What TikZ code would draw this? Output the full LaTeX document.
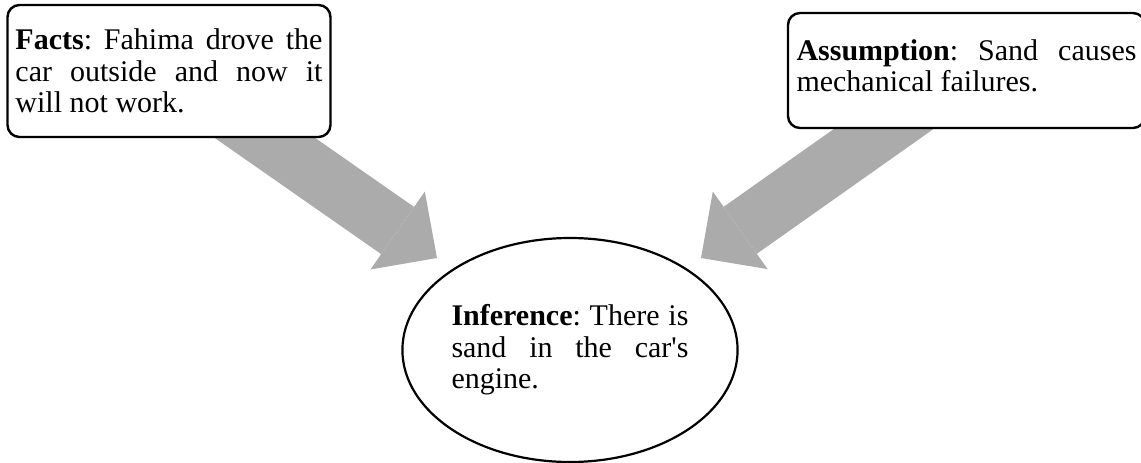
\documentclass[tikz,border=0pt]{standalone}
\usepackage{fontspec}
\setmainfont{Liberation Serif}
\usepackage{xcolor}
\usepackage{tikz}
\usetikzlibrary{shapes.geometric, arrows.meta, backgrounds}
\definecolor{arrowgrey}{HTML}{ABABAB}
\newcommand{\boxtext}{\fontsize{30}{31.5}\selectfont\frenchspacing
  \hyphenpenalty=10000 \spaceskip=0.25em plus 0.6em\relax}

\begin{document}
\begin{tikzpicture}[
  x=1pt, y=-1pt,
  box/.style={draw, fill=white, line width=2.4pt, rounded corners=12pt,
    font=\boxtext, align=justify, inner xsep=8pt},
  blob/.style={draw, fill=white, ellipse, line width=2.2pt,
    font=\boxtext, align=justify, inner sep=0pt},
  bigarrow/.style={arrowgrey, line width=57.5pt,
    -{Triangle[length=48pt, width=95pt, line width=0pt]}}
]
\useasboundingbox (0,0) rectangle (1141,463);

\node[box, text width=307pt, minimum width=322pt, minimum height=132pt] (facts) at (169,71)
  {\textbf{Facts}: Fahima drove the car outside and now it will not work.};
\node[box, text width=340pt, minimum width=357pt, minimum height=115pt] (assum) at (966.5,70.5)
  {\textbf{Assumption}: Sand causes mechanical failures.\strut};
\node[blob, text width=237pt, minimum width=334pt, minimum height=224pt] (infer) at (570,350)
  {\textbf{Inference}: There is sand in the car\textquotesingle s engine.};

\coordinate (factsTip) at (437,258);
\coordinate (assumTip) at (701,258);

% grey block arrows behind the boxes
\begin{scope}[on background layer]
\draw[bigarrow] (facts.center) -- (factsTip);
\draw[bigarrow] (assum.center) -- (assumTip);
\end{scope}
\end{tikzpicture}
\end{document}
